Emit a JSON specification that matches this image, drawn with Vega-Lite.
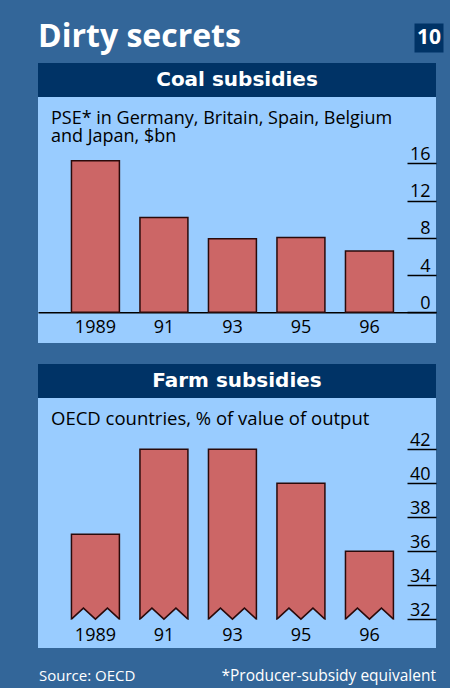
{
  "$schema": "https://vega.github.io/schema/vega-lite/v6.json",
  "background": "#336699",
  "padding": {"left": 38, "top": 13, "right": 6, "bottom": 0},
  "spacing": 0,
  "config": {
    "view": {"stroke": null},
    "font": "Open Sans",
    "title": {"font": "Open Sans"},
    "axis": {"labelFont": "Open Sans"}
  },
  "vconcat": [
    {
      "bounds": "flush",
      "spacing": 0,
      "hconcat": [
        {
          "width": 376,
          "height": 50,
          "data": {"values": []},
          "mark": "text",
          "title": {"text": "Dirty secrets", "anchor": "start", "offset": -41, "fontSize": 32, "fontWeight": "bold", "color": "#ffffff"}
        },
        {
          "width": 30,
          "height": 50,
          "data": {"values": [{"t": "10"}]},
          "layer": [
            {"mark": {"type": "point", "shape": "square", "filled": true, "size": 841, "color": "#003366", "opacity": 1}},
            {"mark": {"type": "text", "color": "#ffffff", "fontSize": 21, "fontWeight": "bold"}, "encoding": {"text": {"field": "t"}}}
          ]
        }
      ]
    },
    {
      "width": 398,
      "height": 34,
      "view": {"fill": "#003366"},
      "data": {"values": [{"t": "Coal subsidies"}]},
      "mark": {"type": "text", "color": "#ffffff", "font": "DejaVu Sans", "fontSize": 20, "fontWeight": "bold"},
      "encoding": {"text": {"field": "t"}}
    },
    {
      "width": 398,
      "height": 246,
      "view": {"fill": "#99ccff"},
      "title": {"text": ["PSE* in Germany, Britain, Spain, Belgium", "and Japan, $bn"], "anchor": "start", "dx": 13, "offset": -48.5, "fontSize": 18, "fontWeight": "normal", "color": "#000000", "lineHeight": 18},
      "data": {"values": [
        {"year": "1989", "value": 16.3},
        {"year": "91", "value": 10.2},
        {"year": "93", "value": 7.9},
        {"year": "95", "value": 8.05},
        {"year": "96", "value": 6.6}
      ]},
      "encoding": {
        "x": {"field": "year", "type": "ordinal", "sort": null,
          "scale": {"paddingInner": 0.3, "paddingOuter": 0.555, "align": 0.44},
          "axis": {"title": null, "orient": "bottom", "offset": -30.7, "domainColor": "#000000", "domainWidth": 1.5, "ticks": false, "labelPadding": 6, "labelFontSize": 18, "labelColor": "#000000", "labelAngle": 0, "labelBaseline": "top"}}
      },
      "layer": [
        {
          "mark": {"type": "bar", "fill": "#cc6666", "stroke": "#2a0a0a", "strokeWidth": 1.5},
          "encoding": {
            "y": {"field": "value", "type": "quantitative",
              "scale": {"domain": [-3.3, 23.15], "nice": false, "zero": false},
              "axis": {"orient": "right", "offset": -29, "values": [0, 4, 8, 12, 16], "title": null, "domain": false, "grid": false, "tickSize": 29, "tickColor": "#000000", "tickWidth": 1.5, "labelAlign": "right", "labelBaseline": "alphabetic", "labelPadding": -6, "labelOffset": -4, "labelFontSize": 18, "labelColor": "#000000"}},
            "y2": {"datum": 0}
          }
        }
      ]
    },
    {
      "width": 398,
      "height": 21,
      "data": {"values": []},
      "mark": "text"
    },
    {
      "width": 398,
      "height": 34,
      "view": {"fill": "#003366"},
      "data": {"values": [{"t": "Farm subsidies"}]},
      "mark": {"type": "text", "color": "#ffffff", "font": "DejaVu Sans", "fontSize": 20, "fontWeight": "bold"},
      "encoding": {"text": {"field": "t"}}
    },
    {
      "width": 398,
      "height": 250,
      "view": {"fill": "#99ccff"},
      "title": {"text": "OECD countries, % of value of output", "anchor": "start", "dx": 13, "offset": -30, "fontSize": 18.5, "fontWeight": "normal", "color": "#000000"},
      "data": {"values": [
        {"year": "1989", "value": 37},
        {"year": "91", "value": 42},
        {"year": "93", "value": 42},
        {"year": "95", "value": 40},
        {"year": "96", "value": 36}
      ]},
      "encoding": {
        "x": {"field": "year", "type": "ordinal", "sort": null,
          "scale": {"paddingInner": 0.3, "paddingOuter": 0.555, "align": 0.44},
          "axis": {"title": null, "orient": "bottom", "offset": -28.7, "domain": false, "ticks": false, "labelPadding": 6.7, "labelFontSize": 18, "labelColor": "#000000", "labelAngle": 0, "labelBaseline": "top"}}
      },
      "layer": [
        {
          "mark": {"type": "bar", "fill": "#cc6666", "stroke": "#2a0a0a", "strokeWidth": 1.5},
          "encoding": {
            "y": {"field": "value", "type": "quantitative",
              "scale": {"domain": [30.3, 45.02], "nice": false, "zero": false},
              "axis": {"orient": "right", "offset": -29, "values": [32, 34, 36, 38, 40, 42], "title": null, "domain": false, "grid": false, "tickSize": 29, "tickColor": "#000000", "tickWidth": 1.5, "labelAlign": "right", "labelBaseline": "alphabetic", "labelPadding": -6, "labelOffset": -4, "labelFontSize": 18, "labelColor": "#000000"}},
            "y2": {"datum": 32}
          }
        },
        {
          "mark": {"type": "point", "shape": "M-1,0L-0.5,-0.46L0,0L0.5,-0.46L1,0L1,0.25L-1,0.25Z", "size": 2304, "filled": true, "color": "#99ccff", "opacity": 1},
          "encoding": {"y": {"datum": 32}}
        },
        {
          "mark": {"type": "point", "shape": "M-1,0L-0.5,-0.46L0,0L0.5,-0.46L1,0", "size": 2304, "filled": false, "color": "#2a0a0a", "strokeWidth": 1.5, "opacity": 1},
          "encoding": {"y": {"datum": 32}}
        }
      ]
    },
    {
      "bounds": "flush",
      "spacing": 0,
      "hconcat": [
        {
          "width": 199,
          "height": 40,
          "data": {"values": []},
          "mark": "text",
          "title": {"text": "Source: OECD", "anchor": "start", "offset": -36, "fontSize": 15, "fontWeight": "normal", "color": "#ffffff", "dx": 1}
        },
        {
          "width": 199,
          "height": 40,
          "data": {"values": []},
          "mark": "text",
          "title": {"text": "*Producer-subsidy equivalent", "anchor": "end", "offset": -36, "fontSize": 15.5, "fontWeight": "normal", "color": "#ffffff"}
        }
      ]
    }
  ]
}
